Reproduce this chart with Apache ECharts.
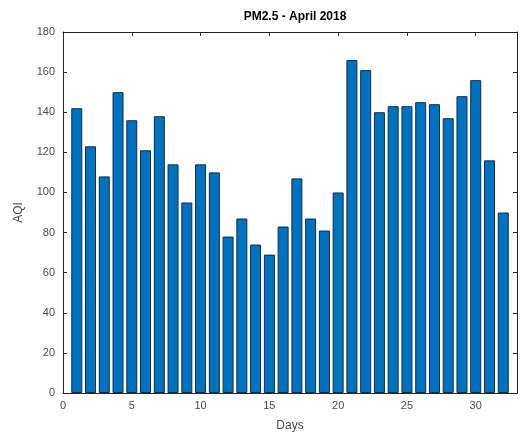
<!DOCTYPE html>
<html><head><meta charset="utf-8">
<script src="https://cdn.jsdelivr.net/npm/echarts@6/dist/echarts.min.js"></script>
<style>html,body{margin:0;padding:0;background:#fff}#c{width:520px;height:444px}</style>
</head><body><div id="c"></div>
<script>
const days = [1,2,3,4,5,6,7,8,9,10,11,12,13,14,15,16,17,18,19,20,21,22,23,24,25,26,27,28,29,30,31,32];
const aqi = [142,123,108,150,136,121,138,114,95,114,110,78,87,74,69,83,107,87,81,100,166,161,140,143,143,145,144,137,148,156,116,90];
const xTicks = [0,5,10,15,20,25,30];
const yTicks = [0,20,40,60,80,100,120,140,160,180];
const titleText = 'PM2.5 - April 2018';
const xName = 'Days';
const yName = 'AQI';

const chart = echarts.init(document.getElementById('c'));
const axisCol = '#262626';
const labCol = '#4d4d4d';
const font = 'Liberation Sans, Arial, sans-serif';
const line = {show: true, onZero: false, lineStyle: {color: axisCol, width: 1}};
const tick = {show: true, inside: true, length: 4, lineStyle: {color: axisCol}};
chart.setOption({
  animation: false,
  title: {text: titleText, left: 290, top: 6, textAlign: 'center',
    textStyle: {fontFamily: font, fontSize: 12, fontWeight: 'bold', color: '#000'}},
  grid: {left: 63, right: 2, top: 32, bottom: 51},
  xAxis: [{
    type: 'value', min: 0, max: 33, interval: 5, position: 'bottom',
    name: xName, nameLocation: 'middle', nameGap: 27,
    nameTextStyle: {fontFamily: font, fontSize: 12, color: labCol},
    axisLine: line, axisTick: tick,
    axisLabel: {fontFamily: font, fontSize: 11, color: labCol, margin: 7,
      formatter: v => xTicks.includes(v) ? String(v) : ''},
    splitLine: {show: false}
  },{
    type: 'value', min: 0, max: 33, interval: 5, position: 'top',
    axisLine: line, axisTick: tick,
    axisLabel: {show: false}, splitLine: {show: false}
  }],
  yAxis: [{
    type: 'value', min: 0, max: 180, interval: 20, position: 'left',
    name: yName, nameLocation: 'middle', nameGap: 38, nameRotate: 90,
    nameTextStyle: {fontFamily: font, fontSize: 12, color: labCol},
    axisLine: line, axisTick: tick,
    axisLabel: {fontFamily: font, fontSize: 11, color: labCol, margin: 8,
      formatter: v => yTicks.includes(v) ? String(v) : ''},
    splitLine: {show: false}
  },{
    type: 'value', min: 0, max: 180, interval: 20, position: 'right',
    axisLine: line, axisTick: tick,
    axisLabel: {show: false}, splitLine: {show: false}
  }],
  series: [{
    type: 'bar', xAxisIndex: 0, yAxisIndex: 0,
    data: days.map((d, i) => [d, aqi[i]]),
    barWidth: 11,
    itemStyle: {color: '#0072BD', borderColor: '#0d2f4d', borderWidth: 1}
  }]
});
</script></body></html>
